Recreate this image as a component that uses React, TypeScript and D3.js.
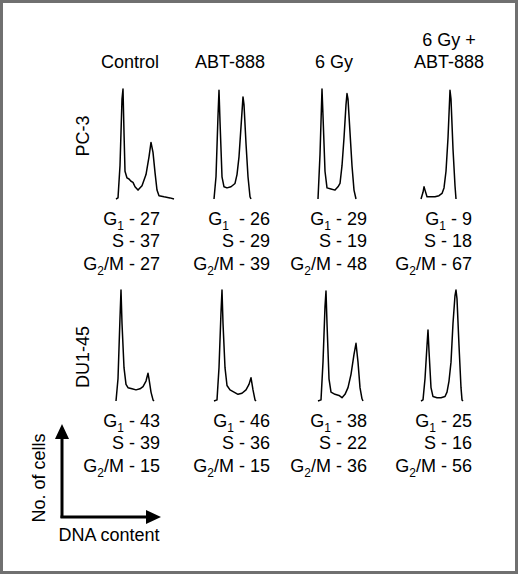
import * as d3 from "d3";

// conditions (columns) and cell lines (rows)
const conditions = ["Control", "ABT-888", "6 Gy", "6 Gy + ABT-888"];
const headerLines = [["Control"], ["ABT-888"], ["6 Gy"], ["6 Gy +", "ABT-888"]];
const cellLines = ["PC-3", "DU1-45"];

// cell cycle percentages [row][col]
const g1Values = [
  [27, 26, 29, 9],
  [43, 46, 38, 25],
];
const sValues = [
  [37, 29, 19, 18],
  [39, 36, 22, 16],
];
const g2mValues = [
  [27, 39, 48, 67],
  [15, 15, 36, 56],
];

// DNA histograms: [channel, relative count]
const pc3Control = [[0,0],[2,1],[4,30],[6,90],[7,99],[8,60],[9,25],[11,19],[13,18],[15,16],[17,15],[19,11],[22,8],[26,12],[30,22],[33,38],[35,51],[37,42],[39,24],[41,8],[43,3],[48,2],[54,1],[58,0]];
const pc3Abt = [[0,0],[2,20],[4,75],[5,98],[6,70],[8,20],[10,11],[13,10],[17,11],[21,14],[23,22],[25,38],[27,65],[29,92],[30,85],[32,50],[34,20],[36,2],[37,0]];
const pc3Gy = [[0,0],[2,40],[4,99],[5,75],[7,25],[9,10],[13,9],[17,8],[20,11],[22,14],[24,30],[26,55],[28,85],[29,95],[30,90],[32,60],[34,30],[36,8],[38,0]];
const pc3GyAbt = [[0,0],[2,6],[3,11],[4,8],[6,2],[10,2],[14,2],[18,3],[21,5],[23,10],[25,25],[27,55],[29,98],[30,90],[32,45],[34,12],[35,0]];
const duControl = [[0,0],[2,20],[4,75],[5,100],[6,70],[8,30],[10,15],[12,12],[16,11],[20,10],[24,11],[27,13],[30,18],[32,25],[33,20],[35,8],[37,1],[38,0]];
const duAbt = [[0,0],[3,1],[5,30],[7,80],[8,100],[9,70],[11,30],[13,14],[16,10],[20,8],[24,6],[28,7],[32,10],[35,15],[37,21],[39,10],[41,1],[42,0]];
const duGy = [[0,0],[3,1],[5,35],[7,85],[8,99],[9,70],[11,20],[13,8],[17,6],[21,5],[24,3],[27,6],[30,12],[33,24],[36,42],[38,52],[40,35],[42,12],[44,2],[45,0]];
const duGyAbt = [[0,0],[2,1],[4,20],[6,50],[7,64],[8,45],[10,12],[12,4],[16,3],[20,3],[24,4],[26,8],[28,18],[30,35],[32,70],[34,95],[35,100],[36,92],[38,50],[40,12],[41,1],[42,0]];

const histograms = [
  [pc3Control, pc3Abt, pc3Gy, pc3GyAbt],
  [duControl, duAbt, duGy, duGyAbt],
];

const W = 520;
const H = 575;
const FONT = "'Liberation Sans', Arial, Helvetica, sans-serif";

// layout
const colLeft = d3.scaleOrdinal<string, number>().domain(conditions).range([116, 214, 318, 421]);
const colHeader = d3.scaleOrdinal<string, number>().domain(conditions).range([130, 230, 334, 449]);
const colTextRight = d3.scaleOrdinal<string, number>().domain(conditions).range([160, 270, 367, 472]);
const rowBase = d3.scaleOrdinal<string, number>().domain(cellLines).range([199, 401]);
const rowLabelY = d3.scaleOrdinal<string, number>().domain(cellLines).range([136, 357]);

function Histogram({ data, left, base }: { data: number[][]; left: number; base: number }) {
  const x = d3.scaleLinear().domain([0, 60]).range([left, left + 60]);
  const y = d3.scaleLinear().domain([0, 100]).range([base, base - 111]);
  const line = d3
    .line<number[]>()
    .x((d) => x(d[0]))
    .y((d) => y(d[1]))
    .curve(d3.curveLinear);
  return <path d={line(data) || ""} fill="none" stroke="#000" strokeWidth={1.5} strokeLinejoin="round" />;
}

function Sub({ main, sub, rest, x, y }: { main: string; sub?: string; rest: string; x: number; y: number }) {
  return (
    <text x={x} y={y} textAnchor="end" fontSize={18} style={{ whiteSpace: "pre" }}>
      {main}
      {sub ? (
        <>
          <tspan dy={5} fontSize={12}>{sub}</tspan>
          <tspan dy={-5}>{rest}</tspan>
        </>
      ) : (
        <tspan>{rest}</tspan>
      )}
    </text>
  );
}

export default function App() {
  return (
    <svg
      width={W}
      height={H}
      style={{ position: "absolute", left: 0, top: 0, background: "#fff" }}
      fontFamily={FONT}
    >
      <rect x={1.5} y={1.5} width={W - 5} height={H - 4} fill="#fff" stroke="#707070" strokeWidth={3} />

      {/* column headers */}
      {conditions.map((c, i) => {
        const lines = headerLines[i];
        return (
          <text key={c} x={colHeader(c)} textAnchor="middle" fontSize={18}>
            {lines.map((l, j) => (
              <tspan key={j} x={colHeader(c)} y={68 - (lines.length - 1 - j) * 22}>
                {l}
              </tspan>
            ))}
          </text>
        );
      })}

      {cellLines.map((cl, r) => {
        const base = rowBase(cl);
        return (
          <g key={cl}>
            <text
              transform={`translate(89,${rowLabelY(cl)}) rotate(-90)`}
              textAnchor="middle"
              fontSize={18}
            >
              {cl}
            </text>
            {conditions.map((c, i) => {
              const xr = colTextRight(c);
              return (
                <g key={c}>
                  <Histogram data={histograms[r][i]} left={colLeft(c)} base={base} />
                  <Sub main="G" sub="1" rest={(c === "ABT-888" && r === 0 ? "  - " : " - ") + g1Values[r][i]} x={xr} y={base + 26} />
                  <Sub main="S" rest={" - " + sValues[r][i]} x={xr} y={base + 48} />
                  <Sub main="G" sub="2" rest={"/M - " + g2mValues[r][i]} x={xr} y={base + 71} />
                </g>
              );
            })}
          </g>
        );
      })}

      {/* axes legend */}
      <g>
        <line x1={62} y1={518} x2={62} y2={436} stroke="#000" strokeWidth={3} />
        <polygon points="62,424 55,439 69,439" fill="#000" />
        <line x1={60.5} y1={517} x2={148} y2={517} stroke="#000" strokeWidth={3} />
        <polygon points="161,517 146,510 146,524" fill="#000" />
        <text transform="translate(45,478) rotate(-90)" textAnchor="middle" fontSize={18}>
          No. of cells
        </text>
        <text x={109} y={541} textAnchor="middle" fontSize={18}>
          DNA content
        </text>
      </g>
    </svg>
  );
}
